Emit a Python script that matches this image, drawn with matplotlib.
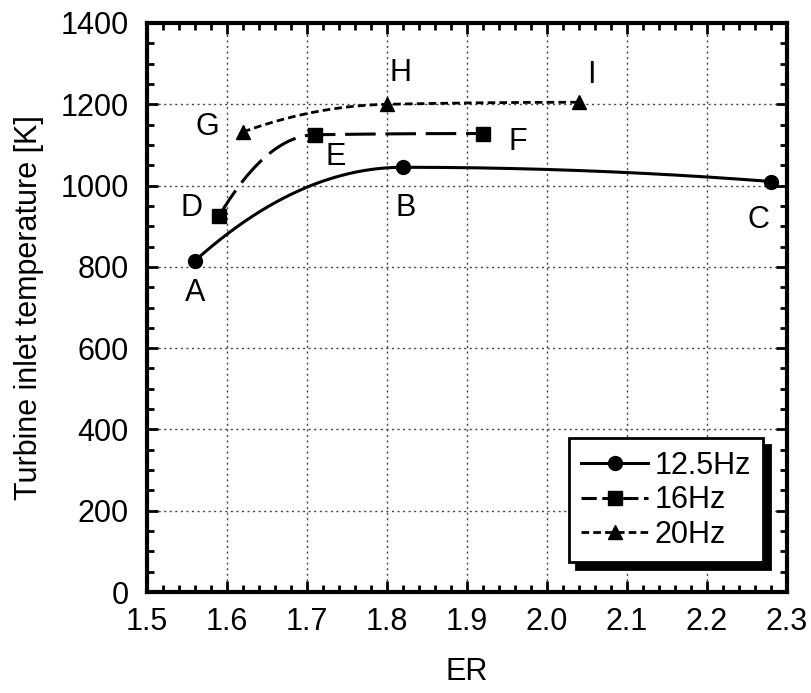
"""Turbine inlet temperature vs ER for three operating frequencies."""
import numpy as np
import matplotlib
matplotlib.use("Agg")
import matplotlib.pyplot as plt
from matplotlib.ticker import MultipleLocator

plt.rcParams["font.family"] = ["Liberation Sans", "DejaVu Sans"]
plt.rcParams["lines.scale_dashes"] = False

# data
er_125 = [1.56, 1.82, 2.28]
t_125 = [815, 1045, 1010]
er_16 = [1.59, 1.71, 1.92]
t_16 = [925, 1125, 1128]
er_20 = [1.62, 1.80, 2.04]
t_20 = [1132, 1200, 1205]

point_names = ["A", "B", "C", "D", "E", "F", "G", "H", "I"]
name_x = [1.56, 1.823, 2.264, 1.556, 1.736, 1.964, 1.575, 1.817, 2.056]
name_y = [736, 945, 915, 945, 1070, 1107, 1144, 1277, 1272]

FS = 22


def smooth(x, y, n=200):
    """shape-preserving cubic Hermite through the points, only used to draw the curve"""
    x = np.asarray(x, float)
    y = np.asarray(y, float)
    h = np.diff(x)
    m = np.diff(y) / h
    d = np.zeros_like(y)
    for k in range(1, len(x) - 1):
        if m[k - 1] * m[k] > 0:
            w1 = 2 * h[k] + h[k - 1]
            w2 = h[k] + 2 * h[k - 1]
            d[k] = (w1 + w2) / (w1 / m[k - 1] + w2 / m[k])
    # quadratic end condition
    d[0] = 2 * m[0] - d[1]
    d[-1] = 2 * m[-1] - d[-2]
    xs, ys = [], []
    for k in range(len(x) - 1):
        t = np.linspace(0, 1, n)
        h00 = 2 * t**3 - 3 * t**2 + 1
        h10 = t**3 - 2 * t**2 + t
        h01 = -2 * t**3 + 3 * t**2
        h11 = t**3 - t**2
        xs.append(x[k] + t * h[k])
        ys.append(h00 * y[k] + h10 * h[k] * d[k] + h01 * y[k + 1] + h11 * h[k] * d[k + 1])
    return np.concatenate(xs), np.concatenate(ys)


fig = plt.figure(figsize=(8.11, 6.93), dpi=100)
ax = fig.add_axes([147 / 811, 1 - 592 / 693, 640 / 811, 569 / 693])

series = [
    (er_125, t_125, "o", "12.5Hz", None, None, 2.2),
    (er_16, t_16, "s", "16Hz", (22, 7), (11, 4), 2.2),
    (er_20, t_20, "^", "20Hz", (5.5, 3), (5.5, 3), 2.0),
]
for xv, yv, mk, lab, dash, legdash, lw in series:
    sx, sy = smooth(xv, yv)
    line, = ax.plot(sx, sy, color="black", lw=lw)
    if dash:
        line.set_dashes(dash)
    ax.plot(xv, yv, mk, color="black", ms=10, zorder=3)
    # legend entry
    h, = ax.plot([], [], color="black", lw=lw, marker=mk, ms=10, label=lab)
    if legdash:
        h.set_dashes(legdash)

for nm, tx, ty in zip(point_names, name_x, name_y):
    ax.text(tx, ty, nm, fontsize=FS, ha="center", va="center")

ax.set_xlim(1.5, 2.3)
ax.set_ylim(0, 1400)
ax.xaxis.set_major_locator(MultipleLocator(0.1))
ax.xaxis.set_minor_locator(MultipleLocator(0.02))
ax.yaxis.set_major_locator(MultipleLocator(200))
ax.yaxis.set_minor_locator(MultipleLocator(50))
ax.xaxis.set_major_formatter(lambda v, pos: f"{v:.1f}")
ax.tick_params(which="both", direction="in", top=True, right=True, labelsize=FS)
ax.tick_params(axis="x", pad=11)
ax.tick_params(axis="y", pad=13)
ax.tick_params(which="major", length=8, width=2)
ax.tick_params(which="minor", length=5, width=2)
for sp in ax.spines.values():
    sp.set_linewidth(3)
ax.grid(True, which="major", color="#444444", lw=1, linestyle=(0, (1.5, 2.5)))
ax.set_axisbelow(True)

ax.set_xlabel("ER", fontsize=FS, labelpad=14)
ax.set_ylabel("Turbine inlet temperature [K]", fontsize=FS, labelpad=12)

leg = ax.legend(loc="lower right", bbox_to_anchor=(0.9625, 0.0527), borderaxespad=0,
                fontsize=FS, handlelength=2.2, handletextpad=0.2, labelspacing=0.15,
                borderpad=0.4, fancybox=False, framealpha=1, edgecolor="black",
                shadow={"color": "black", "alpha": 1, "ox": 5, "oy": -5})
leg.get_frame().set_linewidth(2)

fig.savefig("out.png", dpi=100)
